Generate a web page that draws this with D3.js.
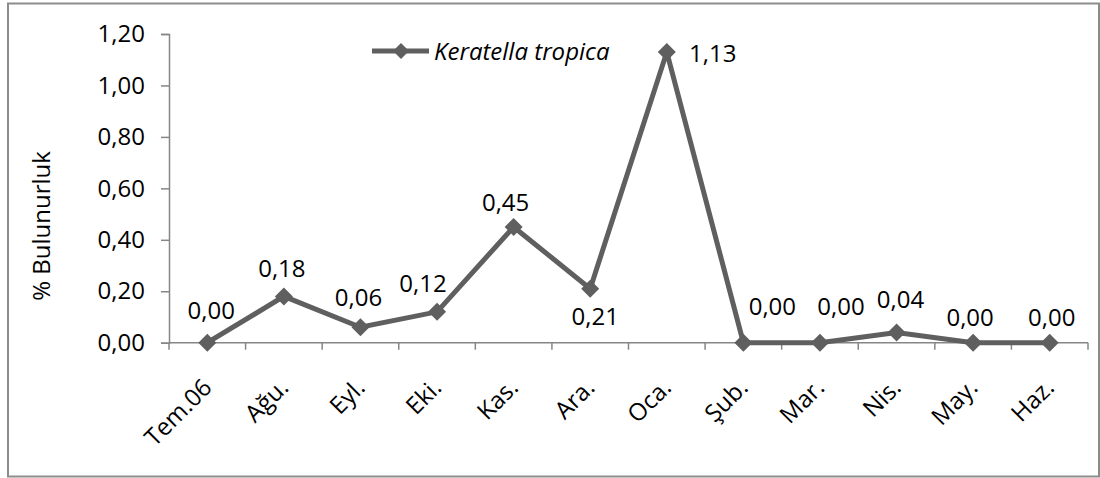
<!DOCTYPE html>
<html>
<head>
<meta charset="utf-8">
<script src="https://cdn.jsdelivr.net/npm/d3@7"></script>
<style>
  html, body { margin: 0; padding: 0; background: #fff; }
  svg { display: block; }
  text { font-family: "Open Sans", "Liberation Sans", sans-serif; fill: #000; }
</style>
</head>
<body>
<svg id="chart" width="1100" height="478"></svg>
<script>
// Monthly relative abundance of Keratella tropica
const months = ["Tem.06", "Ağu.", "Eyl.", "Eki.", "Kas.", "Ara.", "Oca.", "Şub.", "Mar.", "Nis.", "May.", "Haz."];
const values = [0.00, 0.18, 0.06, 0.12, 0.45, 0.21, 1.13, 0.00, 0.00, 0.04, 0.00, 0.00];
const yTicks = [0, 0.2, 0.4, 0.6, 0.8, 1.0, 1.2];
const seriesName = "Keratella tropica";
const yTitle = "% Bulunurluk";

// Hand-placed offsets of each value label relative to its point (px)
const labelOffsets = [
  [4, -24], [-2, -19], [-2, -21], [-14, -20], [-8, -16], [5, 36],
  [46, 10], [29, -28], [21, -28], [4, -24], [-3, -17], [2, -17]
];

const fs = "24px";
const fmt = v => d3.format(".2f")(v).replace(".", ",");
const lineColor = "#5f5f5f";
const axisColor = "#868686";

const svg = d3.select("#chart");

// outer frame
svg.append("rect")
  .attr("x", 8).attr("y", 3.5).attr("width", 1091).attr("height", 473)
  .attr("fill", "none").attr("stroke", "#8c8c8c").attr("stroke-width", 2);

const x = d3.scaleBand().domain(months).range([169, 1088]);
const y = d3.scaleLinear().domain([0, 1.2]).range([342.7, 34]);

// y axis
const yAxis = svg.append("g")
  .attr("transform", "translate(169,0)")
  .call(d3.axisLeft(y).tickValues(yTicks).tickFormat(fmt).tickSize(8).tickPadding(16));
yAxis.select(".domain").attr("stroke", axisColor).attr("stroke-width", 1.5);
yAxis.selectAll(".tick line").attr("stroke", axisColor).attr("stroke-width", 1.5);
yAxis.selectAll(".tick text")
  .style("font-size", fs).attr("fill", "#000");

// x axis (ticks at band edges)
const xAxisG = svg.append("g").attr("transform", `translate(0,${y(0)})`);
xAxisG.append("line")
  .attr("x1", x.range()[0]).attr("x2", x.range()[1])
  .attr("stroke", axisColor).attr("stroke-width", 1.5);
const edges = months.map(m => x(m)).concat([x.range()[1]]);
xAxisG.selectAll("line.tk").data(edges).enter().append("line")
  .attr("class", "tk")
  .attr("x1", d => d).attr("x2", d => d).attr("y1", 0).attr("y2", 7)
  .attr("stroke", axisColor).attr("stroke-width", 1.5);

const cx = m => x(m) + x.bandwidth() / 2;

// category labels, rotated
svg.append("g").selectAll("text").data(months).enter().append("text")
  .attr("transform", d => `translate(${cx(d) + 6},389) rotate(-45)`)
  .attr("text-anchor", "end")
  .style("font-size", fs)
  .text(d => d);

// y axis title
svg.append("text")
  .attr("transform", "translate(50,226) rotate(-90)")
  .attr("text-anchor", "middle")
  .style("font-size", fs)
  .text(yTitle);

// series line
const line = d3.line().x((d, i) => cx(months[i])).y(d => y(d));
svg.append("path")
  .datum(values)
  .attr("d", line)
  .attr("fill", "none")
  .attr("stroke", lineColor)
  .attr("stroke-width", 5)
  .attr("stroke-linejoin", "miter");

// diamond markers
const diamond = r => `M0,${-r}L${r},0L0,${r}L${-r},0Z`;
svg.append("g").selectAll("path").data(values).enter().append("path")
  .attr("transform", (d, i) => `translate(${cx(months[i])},${y(d)})`)
  .attr("d", diamond(9))
  .attr("fill", lineColor);

// value labels
svg.append("g").selectAll("text").data(values).enter().append("text")
  .attr("x", (d, i) => cx(months[i]) + labelOffsets[i][0])
  .attr("y", (d, i) => y(d) + labelOffsets[i][1])
  .attr("text-anchor", "middle")
  .style("font-size", fs)
  .text(d => fmt(d));

// legend
const lg = svg.append("g").attr("transform", "translate(372,51)");
lg.append("line").attr("x1", 0).attr("x2", 57)
  .attr("stroke", lineColor).attr("stroke-width", 5);
lg.append("path").attr("transform", "translate(29,0)").attr("d", diamond(8)).attr("fill", lineColor);
lg.append("text").attr("x", 62).attr("y", 9)
  .style("font-size", fs).style("font-style", "italic")
  .text(seriesName);
</script>
</body>
</html>
